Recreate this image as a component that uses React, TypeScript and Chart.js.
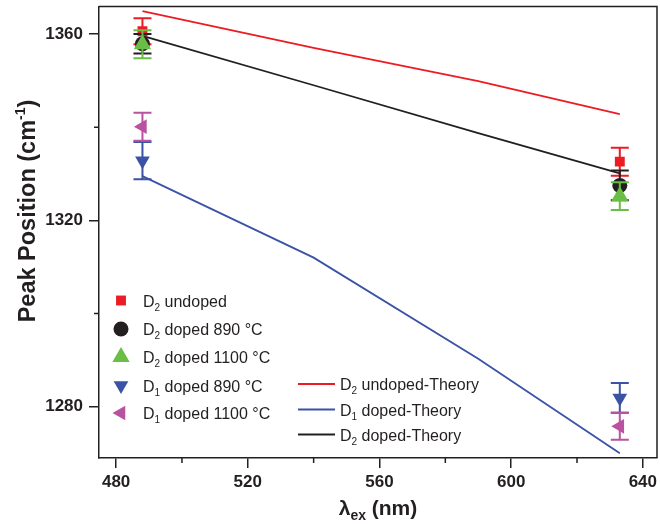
import React, { useEffect, useRef } from 'react';
import { Chart, registerables } from 'chart.js';

Chart.register(...registerables);

// ---- data ----
const wavelengths = [488, 633];
const d2Undoped = [1360.6, 1332.6];
const d2UndopedErr = [2.8, 3.0];
const d2Doped890 = [1357.9, 1327.5];
const d2Doped890Err = [2.1, 3.2];
const d2Doped1100 = [1357.8, 1325.2];
const d2Doped1100Err = [3.0, 3.0];
const d1Doped890 = [1332.8, 1281.9];
const d1Doped890Err = [4.0, 3.2];
const d1Doped1100 = [1340.1, 1275.8];
const d1Doped1100Err = [3.0, 2.9];

const theoryX = [488, 540, 590, 633];
const d2UndopedTheory = [1364.9, 1357.0, 1349.9, 1342.8];
const d1DopedTheory = [1329.5, 1312.0, 1290.3, 1270.0];
const d2DopedTheory = [1359.6, 1349.0, 1338.7, 1330.1];

const xTicks = [480, 520, 560, 600, 640];
const xMinorTicks = [500, 540, 580, 620];
const yTicks = [1280, 1320, 1360];
const yMinorTicks = [1300, 1340];

const FONT = "'Liberation Sans', Arial, Helvetica, sans-serif";
const INK = '#231f20';
const RED = '#ed1c24';
const GREEN = '#6abd45';
const BLUE = '#3a53a4';
const MAGENTA = '#b9529f';

type Part = [string, number, number]; // text, size, dy

function richWidth(ctx: CanvasRenderingContext2D, parts: Part[], weight: string) {
  let w = 0;
  for (const [t, s] of parts) {
    ctx.font = `${weight} ${s}px ${FONT}`;
    w += ctx.measureText(t).width;
  }
  return w;
}

function drawRich(
  ctx: CanvasRenderingContext2D,
  x: number,
  y: number,
  parts: Part[],
  weight: string,
  align: 'left' | 'center'
) {
  let cx = x;
  if (align === 'center') cx = x - richWidth(ctx, parts, weight) / 2;
  ctx.textAlign = 'left';
  ctx.textBaseline = 'alphabetic';
  for (const [t, s, dy] of parts) {
    ctx.font = `${weight} ${s}px ${FONT}`;
    ctx.fillText(t, cx, y + dy);
    cx += ctx.measureText(t).width;
  }
}

function drawMarker(ctx: CanvasRenderingContext2D, style: string, x: number, y: number, r: number, rot: number) {
  ctx.beginPath();
  if (style === 'rect') {
    const s = r * Math.SQRT1_2;
    ctx.rect(x - s, y - s, 2 * s, 2 * s);
  } else if (style === 'circle') {
    ctx.arc(x, y, r, 0, Math.PI * 2);
  } else {
    let rad = (rot * Math.PI) / 180;
    ctx.moveTo(x + Math.sin(rad) * r, y - Math.cos(rad) * r);
    rad += (2 * Math.PI) / 3;
    ctx.lineTo(x + Math.sin(rad) * r, y - Math.cos(rad) * r);
    rad += (2 * Math.PI) / 3;
    ctx.lineTo(x + Math.sin(rad) * r, y - Math.cos(rad) * r);
    ctx.closePath();
  }
  ctx.fill();
}

const errorBarPlugin = {
  id: 'errorBars',
  afterDatasetDraw(chart: any, args: any) {
    const ds = chart.data.datasets[args.index];
    if (!ds.errors) return;
    const ys = chart.scales.y;
    const ctx = chart.ctx as CanvasRenderingContext2D;
    ctx.save();
    ctx.strokeStyle = ds.backgroundColor;
    ctx.lineWidth = 2;
    args.meta.data.forEach((pt: any, i: number) => {
      const v = ds.data[i].y;
      const e = ds.errors[i];
      const top = ys.getPixelForValue(v + e);
      const bot = ys.getPixelForValue(v - e);
      const x = pt.x;
      ctx.beginPath();
      ctx.moveTo(x, top);
      ctx.lineTo(x, bot);
      ctx.moveTo(x - 9, top);
      ctx.lineTo(x + 9, top);
      ctx.moveTo(x - 9, bot);
      ctx.lineTo(x + 9, bot);
      ctx.stroke();
    });
    ctx.restore();
  },
};

const decorPlugin = {
  id: 'decor',
  afterDraw(chart: any) {
    const ctx = chart.ctx as CanvasRenderingContext2D;
    const { left, right, top, bottom } = chart.chartArea;
    const xs = chart.scales.x;
    const ys = chart.scales.y;
    ctx.save();
    ctx.strokeStyle = INK;
    ctx.lineWidth = 1.5;
    ctx.beginPath();
    ctx.moveTo(left, top);
    ctx.lineTo(right, top);
    ctx.lineTo(right, bottom);
    ctx.stroke();
    // minor ticks
    ctx.beginPath();
    for (const v of xMinorTicks) {
      const px = xs.getPixelForValue(v);
      ctx.moveTo(px, bottom);
      ctx.lineTo(px, bottom + 5);
    }
    for (const v of yMinorTicks) {
      const py = ys.getPixelForValue(v);
      ctx.moveTo(left, py);
      ctx.lineTo(left - 5, py);
    }
    ctx.stroke();

    // axis titles
    ctx.fillStyle = INK;
    drawRich(ctx, 378, 515, [['λ', 21, 0], ['ex', 14, 5], [' (nm)', 21, 0]], 'bold', 'center');
    ctx.save();
    ctx.translate(35, 211);
    ctx.rotate(-Math.PI / 2);
    drawRich(ctx, 0, 0, [['Peak Position (cm', 23.5, 0], ['-1', 14, -10], [')', 23.5, 0]], 'bold', 'center');
    ctx.restore();

    // scatter legend
    const pts: [string, number, string, number, string][] = [
      ['rect', 7, RED, 0, ' undoped'],
      ['circle', 7.5, INK, 0, ' doped 890 °C'],
      ['triangle', 10, GREEN, 0, ' doped 1100 °C'],
      ['triangle', 8.5, BLUE, 180, ' doped 890 °C'],
      ['triangle', 8.5, MAGENTA, 270, ' doped 1100 °C'],
    ];
    const subs = ['2', '2', '2', '1', '1'];
    const rowY = [300.5, 329, 357, 385.5, 413];
    pts.forEach((p, i) => {
      ctx.fillStyle = p[2];
      drawMarker(ctx, p[0], 121, rowY[i], p[1], p[3]);
      ctx.fillStyle = INK;
      drawRich(ctx, 143, rowY[i] + 6, [['D', 16, 0], [subs[i], 10, 4], [p[4], 16, 0]], 'normal', 'left');
    });

    // line legend
    const lines: [string, string, string][] = [
      [RED, '2', ' undoped-Theory'],
      [BLUE, '1', ' doped-Theory'],
      [INK, '2', ' doped-Theory'],
    ];
    const lineY = [384, 409.5, 434.5];
    lines.forEach((l, i) => {
      ctx.strokeStyle = l[0];
      ctx.lineWidth = 1.8;
      ctx.beginPath();
      ctx.moveTo(298, lineY[i]);
      ctx.lineTo(335, lineY[i]);
      ctx.stroke();
      ctx.fillStyle = INK;
      drawRich(ctx, 340, lineY[i] + 6, [['D', 16, 0], [l[1], 10, 4], [l[2], 16, 0]], 'normal', 'left');
    });
    ctx.restore();
  },
};

function pts(ys: number[], xsArr: number[] = wavelengths) {
  return xsArr.map((x, i) => ({ x, y: ys[i] }));
}

export default function App() {
  const ref = useRef<HTMLCanvasElement | null>(null);
  useEffect(() => {
    if (!ref.current) return;
    const scatter = (
      label: string,
      data: number[],
      errors: number[],
      color: string,
      style: string,
      radius: number,
      rotation: number,
      order: number
    ) => ({
      label,
      data: pts(data),
      errors,
      showLine: false,
      backgroundColor: color,
      borderColor: color,
      pointBackgroundColor: color,
      pointBorderWidth: 0,
      pointStyle: style,
      pointRadius: radius,
      pointRotation: rotation,
      order,
    });
    const theory = (label: string, data: number[], color: string) => ({
      label,
      data: pts(data, theoryX),
      showLine: true,
      borderColor: color,
      backgroundColor: color,
      borderWidth: 1.8,
      pointRadius: 0,
      tension: 0,
      order: 10,
    });
    const tickFont = { family: FONT, size: 17, weight: 'bold' as const };
    const chart = new Chart(ref.current, {
      type: 'scatter',
      data: {
        datasets: [
          theory('D2 undoped-Theory', d2UndopedTheory, RED),
          theory('D1 doped-Theory', d1DopedTheory, BLUE),
          theory('D2 doped-Theory', d2DopedTheory, INK),
          scatter('D2 undoped', d2Undoped, d2UndopedErr, RED, 'rect', 7, 0, 5),
          scatter('D2 doped 890 °C', d2Doped890, d2Doped890Err, INK, 'circle', 7.5, 0, 4),
          scatter('D2 doped 1100 °C', d2Doped1100, d2Doped1100Err, GREEN, 'triangle', 10, 0, 3),
          scatter('D1 doped 890 °C', d1Doped890, d1Doped890Err, BLUE, 'triangle', 8.5, 180, 2),
          scatter('D1 doped 1100 °C', d1Doped1100, d1Doped1100Err, MAGENTA, 'triangle', 8.5, 270, 1),
        ] as any,
      },
      options: {
        responsive: false,
        animation: false,
        layout: { autoPadding: false, padding: { left: 0, right: 3, top: 6.5, bottom: 0 } },
        plugins: { legend: { display: false }, tooltip: { enabled: false } },
        scales: {
          x: {
            type: 'linear',
            min: 474.8,
            max: 644.3,
            afterBuildTicks: (s: any) => {
              s.ticks = xTicks.map((v) => ({ value: v }));
            },
            afterFit: (s: any) => {
              s.height = 66;
              s.paddingLeft = 0;
              s.paddingRight = 0;
            },
            grid: { drawOnChartArea: false, tickLength: 10, lineWidth: 1.5, color: INK, tickColor: INK },
            border: { display: true, color: INK, width: 1.5 },
            ticks: {
              font: tickFont,
              color: INK,
              padding: 4,
              maxRotation: 0,
              autoSkip: false,
              callback: (v: any) => String(v),
            },
          },
          y: {
            type: 'linear',
            min: 1269.0,
            max: 1365.9,
            afterBuildTicks: (s: any) => {
              s.ticks = yTicks.map((v) => ({ value: v }));
            },
            afterFit: (s: any) => {
              s.width = 99;
              s.paddingTop = 0;
              s.paddingBottom = 0;
            },
            grid: { drawOnChartArea: false, tickLength: 10, lineWidth: 1.5, color: INK, tickColor: INK },
            border: { display: true, color: INK, width: 1.5 },
            ticks: { font: tickFont, color: INK, padding: 6, autoSkip: false, callback: (v: any) => String(v) },
          },
        },
      } as any,
      plugins: [errorBarPlugin, decorPlugin],
    });
    return () => chart.destroy();
  }, []);
  return (
    <div style={{ position: 'absolute', left: 0, top: 0, width: 660, height: 524, background: '#fff' }}>
      <canvas ref={ref} width={660} height={524} style={{ display: 'block' }} />
    </div>
  );
}
